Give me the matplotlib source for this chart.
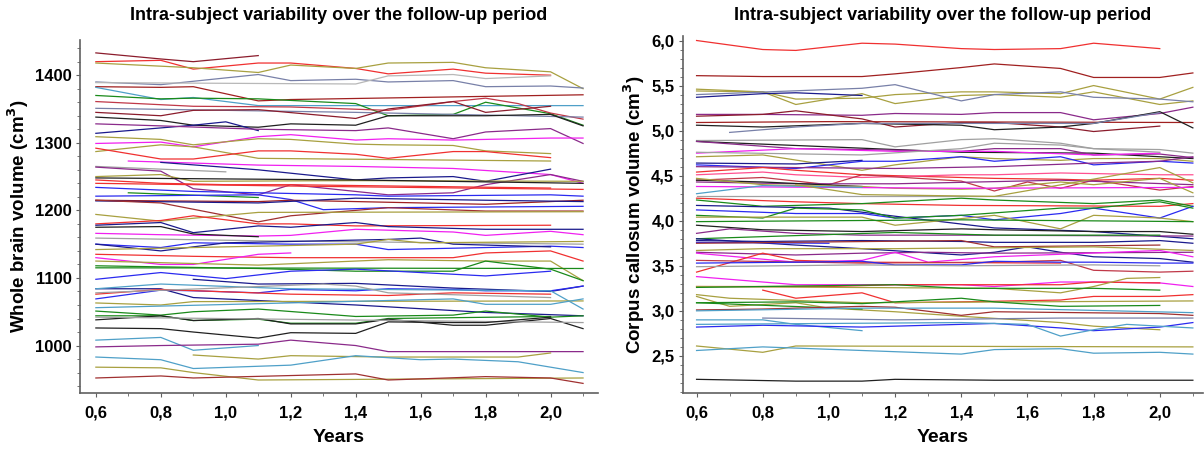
import matplotlib

matplotlib.use("Agg")
import matplotlib.pyplot as plt
import numpy as np
from matplotlib.ticker import FuncFormatter, MultipleLocator

plt.rcParams["font.family"] = ["Liberation Sans", "DejaVu Sans"]

# measurement grid (years); None = no visit at that time
YEARS = [0.6, 0.7, 0.8, 0.9, 1.0, 1.1, 1.2, 1.3, 1.4, 1.5, 1.6, 1.7, 1.8, 1.9, 2.0, 2.1]
_ = None

# whole brain volume (cm3), one row per subject
BRAIN = [
    [1433, _, 1424, 1420, _, 1429, _, _, _, _, _, _, _, _, _, _],
    [1420, _, 1422, 1409, _, 1418, 1418, _, 1410, 1402, _, 1409, 1403, _, 1400, _],
    [1418, _, _, 1411, _, 1404, 1415, _, 1410, 1418, _, 1419, 1411, _, 1405, 1380],
    [1390, _, 1386, 1391, _, 1401, 1392, _, 1394, 1390, _, 1392, 1383, _, 1384, 1381],
    [1389, _, _, _, _, _, _, _, 1387, 1399, _, 1401, 1395, _, 1399, _],
    [1383, _, 1382, 1383, _, 1362, 1364, _, _, _, _, _, _, _, _, 1371],
    [1382, _, 1364, 1367, _, 1355, _, _, _, _, _, _, _, _, _, 1355],
    [1370, _, 1365, 1366, _, 1365, _, _, 1358, 1340, _, 1342, 1360, _, 1343, 1326],
    [1361, _, _, 1354, _, _, 1353, _, _, 1348, _, 1361, 1366, 1358, 1344, 1335],
    [1351, _, _, _, _, _, _, _, 1345, _, _, _, _, _, _, 1338],
    [1345, _, 1340, 1348, _, 1349, _, _, 1336, 1350, _, 1361, 1345, _, 1354, _],
    [1338, _, 1333, 1326, _, 1323, 1328, _, 1326, 1340, _, 1340, 1340, _, 1342, 1325],
    [1314, _, _, 1326, 1331, 1318, _, _, _, _, _, _, _, _, _, _],
    [1328, _, 1325, _, _, 1320, _, _, 1318, 1322, _, 1306, 1316, _, 1321, 1299],
    [1299, _, 1301, 1294, _, 1309, 1312, _, 1304, 1306, _, 1304, _, _, 1307, 1307],
    [1309, _, 1305, 1297, _, 1306, 1305, _, 1298, 1297, _, 1296, 1288, _, 1284, _],
    [1287, _, 1297, 1294, _, 1277, _, _, _, _, _, _, _, _, 1273, _],
    [1292, _, 1276, 1276, _, 1288, 1288, _, 1283, 1277, _, 1287, 1287, _, 1278, _],
    [_, 1273, _, _, _, 1267, _, _, 1265, _, _, 1262, _, _, 1253, 1240],
    [_, _, 1271, _, _, 1260, _, _, 1245, 1248, _, 1250, 1243, _, 1261, _],
    [1265, _, _, _, 1257, _, _, _, _, _, _, _, _, _, _, _],
    [1264, _, 1258, 1232, _, 1223, 1238, _, _, 1223, _, 1226, 1238, _, 1253, 1243],
    [1250, _, 1253, 1243, _, _, _, _, 1244, _, _, _, _, _, _, 1243],
    [1248, _, _, _, _, _, _, _, 1245, _, _, _, _, _, _, 1240],
    [1245, _, 1240, _, 1238, _, 1238, _, _, _, _, _, _, _, 1233, _],
    [1240, _, _, _, _, _, 1236, _, _, _, _, _, _, _, _, 1231],
    [1234, _, _, 1228, _, 1226, _, _, 1223, 1221, _, _, _, _, 1223, 1221],
    [_, 1226, _, _, _, 1219, _, _, _, _, _, _, _, _, _, _],
    [1221, _, _, _, _, 1223, 1216, 1201, _, 1204, _, _, _, _, _, 1206],
    [1215, _, 1214, _, _, 1213, 1215, _, _, _, _, _, 1209, _, _, 1215],
    [1214, _, _, _, _, 1211, _, _, 1218, _, _, _, 1215, _, _, 1213],
    [1215, _, 1211, _, _, 1183, 1192, _, _, 1204, _, _, 1199, _, _, 1199],
    [1194, _, 1184, _, _, 1197, _, _, _, _, _, _, _, _, _, 1198],
    [1180, _, 1185, 1192, _, 1180, 1180, _, 1177, _, _, _, _, _, 1178, _],
    [1178, _, 1182, 1167, _, 1177, 1175, _, 1182, 1176, _, _, 1172, _, _, 1172],
    [1166, _, 1164, _, _, 1162, 1163, _, 1172, _, _, 1168, 1163, _, 1169, 1164],
    [1175, _, 1176, 1165, _, 1161, _, _, _, _, _, _, _, _, _, _],
    [1159, _, _, _, _, 1155, _, _, _, _, _, _, _, _, _, 1150],
    [1150, _, 1145, 1152, _, _, 1150, _, 1150, 1142, _, _, _, _, 1147, 1145],
    [1150, _, 1140, _, 1152, _, _, _, _, 1157, 1159, 1150, _, _, 1146, _],
    [1142, _, _, _, _, _, _, _, 1150, 1157, 1152, _, _, _, _, 1154],
    [1135, _, _, 1132, _, _, 1130, _, _, _, _, 1130, 1137, _, 1140, 1125],
    [1130, _, 1120, 1120, _, 1135, 1137, _, _, _, _, _, _, _, _, _],
    [1125, _, _, _, _, 1119, _, _, _, 1127, _, _, 1125, _, 1125, 1096],
    [1118, _, _, _, _, 1114, _, _, 1110, _, _, 1110, 1125, _, 1113, 1096],
    [1115, _, _, _, _, _, _, _, _, _, _, _, _, _, _, 1114],
    [1098, _, 1108, _, 1099, _, 1110, _, 1113, _, _, _, 1103, _, 1110, _],
    [_, _, _, 1098, _, 1091, _, _, 1092, _, _, 1085, _, _, 1080, 1088],
    [1069, _, 1082, 1081, _, 1078, 1083, _, 1081, 1084, _, 1083, 1081, _, 1081, 1088],
    [1084, _, 1084, 1071, _, _, _, _, 1060, _, _, _, 1049, _, _, 1044],
    [1076, _, 1083, _, _, _, 1076, _, _, 1074, _, 1078, _, _, 1076, _],
    [1084, _, 1091, _, _, _, 1084, _, _, _, _, _, _, _, 1081, 1054],
    [1078, _, _, _, _, _, _, 1091, 1088, 1078, _, _, _, _, 1071, _],
    [1063, _, 1060, 1065, _, _, _, _, _, _, _, _, _, _, _, 1066],
    [1056, _, _, _, _, _, _, _, _, _, _, 1069, 1061, _, 1061, 1069],
    [1051, _, 1045, 1050, _, 1054, _, _, 1043, _, _, 1045, 1051, _, 1042, 1044],
    [1044, _, 1044, 1037, _, 1039, 1033, _, 1033, 1040, _, _, _, _, 1043, _],
    [1038, _, 1044, 1037, _, 1040, 1032, _, 1032, 1039, _, 1030, 1030, _, 1040, 1025],
    [1042, _, _, _, _, _, _, _, _, _, _, _, _, _, _, 1034],
    [1026, _, 1025, 1020, _, 1011, 1019, _, 1018, 1035, _, 1034, 1034, _, 1042, _],
    [1008, _, 1012, 993, _, 1000, _, _, _, _, _, _, _, _, _, _],
    [998, _, 1000, _, _, 1002, 1008, _, 1000, 991, _, _, _, _, _, 991],
    [_, _, _, 986, _, 980, 985, _, _, 983, _, _, _, 983, 989, _],
    [983, _, 979, 966, _, _, 971, _, 985, _, 979, 980, _, 976, _, 960],
    [968, _, 967, 960, _, 949, _, _, _, _, _, _, _, _, _, 952],
    [952, _, 955, 952, _, _, _, _, 958, 949, _, _, 954, _, 952, 944],
]
BRAIN_COLORS = [
    "maroon", "red", "olive", "slate", "lightgray", "darkred", "teal", "green",
    "crimson", "slate", "maroon", "black", "navy", "purple", "magenta", "olive",
    "olive", "red", "magenta", "navy", "gray", "purple", "olive", "black",
    "red", "red", "blue", "green", "blue", "darkred", "navy", "brown",
    "olive", "red", "navy", "magenta", "black", "gray", "blue", "navy",
    "olive", "red", "magenta", "olive", "green", "green", "blue", "navy",
    "blue", "navy", "red", "teal", "gray", "olive", "teal", "green",
    "green", "black", "gray", "black", "teal", "purple", "olive", "teal",
    "olive", "brown",
]

# corpus callosum volume (cm3), one row per subject
CC = [
    [6.00, _, 5.90, 5.89, _, 5.97, 5.96, _, 5.91, 5.90, _, 5.91, 5.97, _, 5.91, _],
    [5.61, _, 5.60, _, _, 5.60, 5.63, _, 5.70, 5.74, _, 5.69, 5.59, _, 5.59, 5.64],
    [5.46, _, 5.43, 5.35, _, 5.36, 5.40, _, 5.43, 5.43, _, 5.41, 5.50, _, 5.35, 5.48],
    [5.44, _, 5.43, 5.29, _, 5.41, 5.30, _, 5.39, 5.40, _, 5.37, 5.43, _, 5.29, 5.33],
    [5.37, _, 5.41, 5.42, _, 5.39, _, _, _, _, _, _, _, _, _, _],
    [5.40, _, _, _, _, 5.47, 5.51, _, 5.33, 5.40, _, 5.43, 5.37, _, 5.35, 5.32],
    [5.18, _, 5.18, _, _, 5.17, 5.19, _, 5.18, 5.20, _, 5.20, 5.12, _, 5.19, 5.26],
    [5.16, _, 5.18, 5.22, _, 5.13, 5.04, _, 5.09, 5.09, _, 5.04, 4.99, _, 5.05, _],
    [5.09, _, _, _, 5.10, _, _, _, _, _, _, _, _, _, _, 5.09],
    [5.06, _, 5.04, _, _, 5.08, _, _, 5.06, 5.01, _, 5.04, 5.08, _, 5.21, 5.03],
    [_, 4.98, _, 5.04, _, 5.08, _, _, 5.08, _, _, _, 5.08, _, 5.20, _],
    [4.89, _, _, _, _, 4.90, 4.82, _, 4.90, 4.91, _, 4.86, 4.80, _, 4.79, 4.75],
    [4.88, _, _, _, _, _, 4.79, _, 4.76, _, _, _, 4.75, _, _, 4.69],
    [4.88, _, _, 4.80, _, 4.79, _, _, 4.77, 4.80, _, 4.80, 4.73, _, 4.74, 4.70],
    [4.75, _, _, 4.80, _, _, 4.77, _, _, 4.77, _, _, 4.73, _, 4.75, _],
    [4.76, _, _, _, _, 4.73, _, _, 4.80, 4.86, _, 4.84, 4.80, _, 4.76, _],
    [4.71, _, 4.73, _, _, 4.56, 4.62, _, 4.71, 4.69, _, 4.67, 4.69, _, 4.69, 4.66],
    [4.64, _, _, 4.63, _, 4.67, _, _, _, _, _, _, _, _, _, _],
    [4.62, _, _, 4.58, _, 4.66, 4.66, _, 4.71, 4.66, _, 4.71, 4.62, _, 4.66, 4.64],
    [4.60, _, _, _, _, _, 4.58, _, _, 4.60, _, _, 4.64, _, 4.66, 4.71],
    [4.54, _, 4.59, 4.56, _, 4.51, _, _, 4.48, 4.47, _, 4.46, 4.45, _, 4.47, 4.45],
    [4.51, _, 4.54, 4.51, _, 4.48, _, _, 4.51, 4.51, _, 4.53, _, _, 4.51, 4.51],
    [4.45, _, 4.48, _, 4.40, 4.51, _, _, 4.44, 4.33, 4.43, 4.36, 4.45, _, 4.34, 4.38],
    [4.43, _, _, 4.41, _, _, 4.41, _, _, _, _, 4.45, _, _, _, 4.40],
    [4.45, _, 4.43, _, _, 4.38, _, _, _, _, _, _, _, _, _, _],
    [4.47, _, 4.40, 4.39, _, 4.38, 4.36, _, 4.35, 4.36, _, 4.43, 4.40, _, 4.47, 4.31],
    [4.38, _, _, _, _, _, _, _, 4.36, _, _, _, _, _, _, 4.37],
    [4.30, _, 4.39, _, _, 4.37, _, _, _, _, _, _, _, _, _, _],
    [4.27, _, _, _, _, _, _, _, 4.27, _, _, _, _, _, _, 4.27],
    [_, _, _, 4.40, _, 4.29, _, _, _, 4.27, _, _, _, _, 4.59, 4.42],
    [4.25, _, _, 4.21, _, 4.19, _, _, 4.17, _, _, _, _, _, 4.16, 4.19],
    [4.23, _, 4.16, _, _, 4.19, _, _, 4.25, 4.23, _, _, 4.19, _, 4.23, 4.16],
    [4.17, _, _, _, 4.14, _, 4.05, _, _, 3.92, _, _, 3.88, _, _, 3.80],
    [4.12, _, _, 4.08, _, 4.08, 4.03, _, 4.06, 4.01, _, 4.08, 4.14, _, 4.03, 4.16],
    [4.06, _, 4.03, 4.14, _, 4.12, 4.03, _, 4.06, _, _, 4.14, 4.14, _, 4.21, 4.14],
    [4.04, _, 4.04, _, _, 4.04, 3.95, _, _, 4.06, _, 3.91, 4.06, _, 4.03, 3.99],
    [3.99, _, _, _, _, _, _, _, 4.01, _, _, _, _, _, _, 3.99],
    [3.95, _, 3.90, _, _, 3.88, _, _, 3.91, 3.90, _, _, 3.88, _, 3.88, 3.85],
    [3.86, 3.91, _, 3.86, _, 3.84, _, _, 3.84, _, _, _, _, _, _, 3.83],
    [3.80, _, _, _, _, _, 3.87, _, _, 3.84, _, _, _, _, 3.84, _],
    [3.80, _, _, 3.73, _, 3.69, _, _, 3.62, 3.65, 3.71, 3.65, 3.60, _, 3.58, 3.54],
    [3.76, _, _, _, 3.75, _, _, _, _, _, _, _, _, _, _, _],
    [3.78, _, 3.77, _, _, 3.78, _, _, 3.77, 3.76, _, _, 3.76, _, 3.78, 3.75],
    [3.75, _, _, _, _, _, _, _, 3.78, 3.71, _, _, _, _, 3.73, _],
    [3.67, _, 3.69, _, _, _, 3.69, _, _, _, _, _, 3.71, _, _, 3.67],
    [3.65, _, _, 3.62, _, 3.64, _, 3.65, _, 3.64, _, _, _, _, _, 3.65],
    [3.64, _, _, 3.54, _, 3.56, 3.65, 3.54, _, 3.60, _, _, _, _, 3.67, 3.60],
    [3.43, _, 3.64, 3.56, _, 3.54, _, _, _, _, _, 3.53, _, _, _, _],
    [3.56, _, _, _, _, 3.53, _, _, _, 3.54, _, 3.56, 3.45, _, 3.43, 3.44],
    [3.53, _, _, 3.54, _, 3.55, 3.51, _, 3.51, 3.55, _, 3.54, 3.54, _, 3.53, 3.53],
    [3.49, _, _, _, _, 3.51, _, _, 3.50, _, _, _, 3.51, _, 3.50, _],
    [3.38, _, 3.32, 3.29, _, 3.29, _, _, 3.29, 3.27, _, 3.32, 3.32, _, 3.31, 3.27],
    [3.27, _, _, _, 3.27, _, 3.29, _, _, _, _, 3.29, 3.32, _, 3.31, _],
    [3.27, _, _, _, _, _, _, _, _, 3.25, _, 3.20, 3.27, 3.36, 3.37, _],
    [3.26, _, _, _, _, _, 3.29, _, 3.25, _, _, _, 3.25, _, 3.23, _],
    [_, _, 3.23, 3.14, _, 3.20, 3.09, _, 3.10, _, _, 3.12, 3.16, _, 3.16, 3.18],
    [3.18, 3.14, _, _, _, 3.09, _, _, _, _, _, _, _, _, _, 3.11],
    [3.16, 3.05, _, 3.09, 3.03, _, 2.99, _, 2.94, _, _, 2.87, 2.83, _, 2.79, _],
    [3.09, _, _, 3.10, _, 3.08, 3.10, _, 3.14, 3.10, _, 3.05, _, _, 3.06, _],
    [3.09, _, _, _, _, 3.02, _, _, _, _, _, _, _, _, _, _],
    [3.01, _, 3.02, _, _, 3.05, 3.04, _, 2.95, 2.99, _, _, _, _, 2.97, 2.95],
    [3.00, _, _, _, _, 3.03, _, _, _, 3.03, _, _, _, _, _, 2.98],
    [2.90, _, 2.90, 2.85, _, 2.78, _, _, _, _, _, _, _, _, _, _],
    [_, _, 2.92, _, _, _, 2.90, _, _, _, _, 2.92, _, _, _, 2.92],
    [2.82, _, 2.84, _, _, 2.82, 2.83, _, 2.85, 2.86, _, 2.81, 2.78, _, 2.82, 2.87],
    [2.85, _, _, _, _, _, _, _, 2.87, _, 2.85, 2.72, 2.79, 2.85, _, 2.81],
    [2.61, _, 2.54, 2.61, _, _, _, _, _, _, _, _, _, _, _, 2.60],
    [2.56, _, 2.60, _, _, 2.56, _, _, 2.52, 2.57, _, 2.58, 2.53, _, 2.54, 2.52],
    [2.24, _, _, 2.22, _, 2.22, 2.24, _, _, 2.23, _, _, _, _, _, 2.23],
]
CC_COLORS = [
    "red", "darkred", "olive", "olive", "navy", "slate", "purple", "maroon",
    "darkred", "black", "slate", "gray", "black", "purple", "magenta", "gray",
    "olive", "navy", "blue", "purple", "red", "pink", "crimson", "purple",
    "black", "olive", "magenta", "teal", "gray", "olive", "red", "green",
    "navy", "blue", "green", "olive", "green", "black", "purple", "green",
    "navy", "blue", "navy", "brown", "olive", "purple", "magenta", "red",
    "crimson", "blue", "gray", "magenta", "red", "olive", "green", "red",
    "olive", "olive", "green", "green", "brown", "teal", "teal", "slate",
    "blue", "teal", "olive", "teal", "black",
]

PALETTE = {
    "red": "#F03030", "darkred": "#A02020", "maroon": "#8B1C2C", "olive": "#A8A040",
    "slate": "#7880A8", "lightgray": "#B8B8B8", "gray": "#A0A0A0", "teal": "#4FA0C8",
    "green": "#1A8A1A", "crimson": "#C03848", "black": "#202020", "navy": "#1A1A8C",
    "purple": "#8A2A8A", "magenta": "#F020F0", "blue": "#2A2AF0", "brown": "#A03030",
    "pink": "#FF5090",
}


def comma(fmt):
    return FuncFormatter(lambda v, pos: fmt.format(v).replace(".", ","))


def panel(ax, rows, colors, ylabel, yfmt, ymajor, yminor, ylim, xlim):
    yrs = np.array(YEARS)
    for row, c in zip(rows, colors):
        v = np.array([np.nan if r is None else r for r in row], dtype=float)
        ok = ~np.isnan(v)
        ax.plot(yrs[ok], v[ok], color=PALETTE[c], lw=0.9)
    ax.set_xlim(*xlim)
    ax.set_ylim(*ylim)
    ax.xaxis.set_major_locator(MultipleLocator(0.2))
    ax.xaxis.set_minor_locator(MultipleLocator(0.1))
    ax.yaxis.set_major_locator(MultipleLocator(ymajor))
    ax.yaxis.set_minor_locator(MultipleLocator(yminor))
    ax.xaxis.set_major_formatter(comma("{:.1f}"))
    ax.yaxis.set_major_formatter(comma(yfmt))
    for s in ("top", "right"):
        ax.spines[s].set_visible(False)
    for s in ("left", "bottom"):
        ax.spines[s].set_color("#606060")
        ax.spines[s].set_linewidth(1.2)
    ax.tick_params(which="major", length=3, color="#606060", labelsize=12)
    ax.tick_params(axis="x", which="major", pad=6)
    ax.tick_params(axis="y", which="major", pad=3)
    ax.tick_params(which="minor", length=2, color="#606060")
    for lab in ax.get_xticklabels() + ax.get_yticklabels():
        lab.set_fontweight("bold")
    ax.set_xlabel("Years", fontsize=14, fontweight="bold", labelpad=6)
    ax.set_ylabel(ylabel, fontsize=13.5, fontweight="bold", labelpad=3)


fig = plt.figure(figsize=(12.04, 4.5), dpi=100)
ax1 = fig.add_axes([0.0664, 0.127, 0.430, 0.784])
ax2 = fig.add_axes([0.567, 0.127, 0.432, 0.793])

panel(ax1, BRAIN, BRAIN_COLORS, "Whole brain volume (cm$^{\\mathbf{3}}$)",
      "{:.0f}", 100, 20, (930, 1452), (0.551, 2.145))
panel(ax2, CC, CC_COLORS, "Corpus callosum volume (cm$^{\\mathbf{3}}$)",
      "{:.1f}", 0.5, 0.1, (2.09, 6.05), (0.558, 2.13))

TITLE = "Intra-subject variability over the follow-up period"
for ax in (ax1, ax2):
    box = ax.get_position()
    fig.text((box.x0 + box.x1) / 2, 0.965, TITLE, ha="center", va="center",
             fontsize=13, fontweight="bold")

fig.savefig("out.png", dpi=100)
